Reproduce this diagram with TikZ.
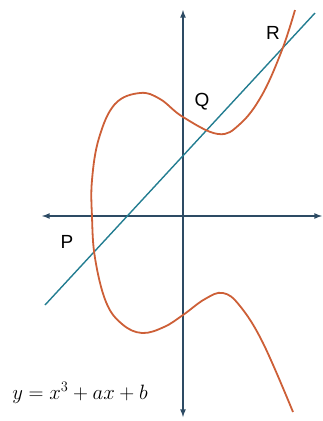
\documentclass[tikz,border=0pt]{standalone}
\usepackage{fontspec}
\setsansfont{Liberation Sans}
\usepackage{amsmath, amssymb}
\usepackage{tikz}
\definecolor{axiscol}{RGB}{45,75,100}
\definecolor{curvecol}{RGB}{205,95,55}
\definecolor{linecol}{RGB}{35,125,145}

\begin{document}
\begin{tikzpicture}[x=1pt,y=-1pt,>=latex]
      \useasboundingbox (0,0) rectangle (323,421);
      % axes
      \coordinate (top) at (183,10);
      \coordinate (bottom) at (183,417);
      \coordinate (left) at (42,216);
      \coordinate (right) at (322,216);
      \draw[axiscol, line width=1.6pt, <->] (bottom) -- (top);
      \draw[axiscol, line width=1.6pt, <->] (left) -- (right);
      % the line through P, Q, R
      \coordinate (lstart) at (45,305);
      \coordinate (lend) at (315,13);
      \draw[linecol, line width=1.4pt] (lstart) -- (lend);
      % the curve
      \draw[curvecol, line width=1.8pt] plot[smooth, tension=0.65] coordinates {
        (295,10) (282,50) (262,95) (240,124) (218,134)
        (183,117) (160,99) (140,93) (115,104) (99,138)
        (92,180) (92,217) (95,258) (106,302) (122,324) (142,333)
        (164,327) (183,315) (205,299) (223,293) (240,306)
        (263,343) (293,412)};
      % labels
      \node[font=\sffamily\fontsize{19}{21}\selectfont] (P) at (67,242){P};
      \node[font=\sffamily\fontsize{19}{21}\selectfont] (Q) at (202,102){Q};
      \node[font=\sffamily\fontsize{19}{21}\selectfont] (R) at (273,33){R};
      \node[font=\fontsize{21}{23}\selectfont] (eq) at (80,393){$y = x^3 + ax + b$};
    \end{tikzpicture}
\end{document}
